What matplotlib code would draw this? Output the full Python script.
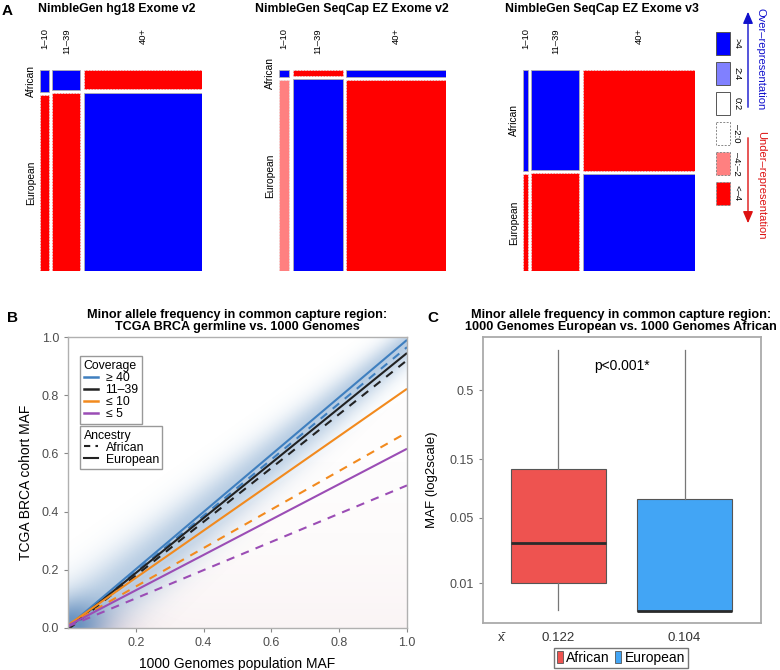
import numpy as np
import matplotlib
matplotlib.use("Agg")
import matplotlib.pyplot as plt
from matplotlib.patches import Rectangle, Patch
from matplotlib.lines import Line2D

plt.rcParams['font.family'] = ['Liberation Sans', 'DejaVu Sans']

# ---------------- data ----------------
# Panel A: mosaic plots
mosaic_titles = ["NimbleGen hg18 Exome v2", "NimbleGen SeqCap EZ Exome v2",
                 "NimbleGen SeqCap EZ Exome v3"]
coverage_levels = ["1–10", "11–39", "40+"]
ancestry_levels = ["African", "European"]
coverage_share = [[0.058, 0.180, 0.762],
                  [0.063, 0.314, 0.623],
                  [0.030, 0.290, 0.680]]
african_share = [[0.110, 0.100, 0.098],
                 [0.035, 0.030, 0.035],
                 [0.510, 0.505, 0.510]]
residual_african = [[">4", ">4", "<-4"],
                    [">4", "<-4", ">4"],
                    [">4", ">4", "<-4"]]
residual_european = [["<-4", "<-4", ">4"],
                     ["-4:-2", ">4", "<-4"],
                     ["<-4", "<-4", ">4"]]
residual_classes = [">4", "2:4", "0:2", "-2:0", "-4:-2", "<-4"]
residual_labels = [">4", "2:4", "0:2", "–2:0", "–4:–2", "<–4"]

# Panel B: regression lines (intercept, slope)
cov_labels = ["≥ 40", "11–39", "≤ 10", "≤ 5"]
eur_intercept = [0.005, 0.000, 0.010, 0.008]
eur_slope = [0.985, 0.945, 0.812, 0.608]
afr_intercept = [0.000, -0.005, 0.010, 0.005]
afr_slope = [0.965, 0.925, 0.662, 0.485]

# Panel C: box statistics
groups = ["African", "European"]
whislo = [0.0028, 0.0026]
q1 = [0.0100, 0.0026]
med = [0.0295, 0.0026]
q3 = [0.1250, 0.0717]
whishi = [0.987, 0.987]
means = ["0.122", "0.104"]
c_ticks = [0.01, 0.05, 0.15, 0.5]

# ---------------- figure ----------------
W, H = 780, 670
fig = plt.figure(figsize=(W / 100, H / 100), dpi=100)


def add_ax(x0, y0, x1, y1):
    return fig.add_axes([x0 / W, 1 - y1 / H, (x1 - x0) / W, (y1 - y0) / H])


def ftext(x, y, s, **kw):
    return fig.text(x / W, 1 - y / H, s, **kw)


# ---------------- Panel A ----------------
fill = {">4": "#0000FF", "2:4": "#8080FF", "0:2": "#FFFFFF",
        "-2:0": "#FFFFFF", "-4:-2": "#FF8080", "<-4": "#FF0000"}
positive = {">4", "2:4", "0:2"}

ftext(7, 11, "A", fontsize=11, fontweight='bold', ha='center', va='center')
mosaic_boxes = [(40, 70, 202, 271), (279, 70, 446, 271), (523, 70, 695, 271)]
title_x = [117, 352, 602]
for m in range(3):
    x0, y0, x1, y1 = mosaic_boxes[m]
    ax = add_ax(x0, y0, x1, y1)
    ax.set_xlim(0, 1)
    ax.set_ylim(1, 0)
    ax.axis('off')
    gx = 3.5 / (x1 - x0)
    gy = 3.5 / (y1 - y0)
    usable = 1 - gx * (len(coverage_levels) - 1)
    xc = 0.0
    ftext(title_x[m], 9, mosaic_titles[m], fontsize=8.8, fontweight='bold',
          ha='center', va='center')
    for j in range(len(coverage_levels)):
        w = coverage_share[m][j] * usable
        ha_ = african_share[m][j] * (1 - gy)
        he_ = (1 - african_share[m][j]) * (1 - gy)
        for (yy, hh, cls) in [(0, ha_, residual_african[m][j]),
                              (ha_ + gy, he_, residual_european[m][j])]:
            ls = '-' if cls in positive else (0, (2, 1.5))
            ec = '#B0B0B0' if cls in positive else '#E8E8E8'
            ax.add_patch(Rectangle((xc, yy), w, hh, facecolor=fill[cls],
                                   edgecolor=ec, lw=0.6, linestyle=ls))
        ftext(x0 + (xc + w / 2) * (x1 - x0), 28, coverage_levels[j], rotation=90,
              fontsize=6.8, ha='center', va='top')
        if j == 0:
            ftext(x0 - 9, y0 + ha_ / 2 * (y1 - y0), ancestry_levels[0], rotation=90,
                  fontsize=7.4, ha='center', va='center')
            ftext(x0 - 9, y0 + (ha_ + gy + he_ / 2) * (y1 - y0), ancestry_levels[1],
                  rotation=90, fontsize=7.4, ha='center', va='center')
        xc += w + gx

# shading legend
legax = add_ax(700, 0, 780, 280)
legax.set_xlim(700, 780)
legax.set_ylim(280, 0)
legax.axis('off')
box_tops = [32, 62, 92, 122, 152, 182]
for cls, lab, top in zip(residual_classes, residual_labels, box_tops):
    ls = '-' if cls in positive else (0, (2, 1.5))
    ec = '#555555' if cls in positive else '#888888'
    legax.add_patch(Rectangle((716, top), 14, 23, facecolor=fill[cls],
                              edgecolor=ec, lw=0.7, linestyle=ls))
    legax.text(737, top + 11.5, lab, rotation=270, fontsize=6.8,
               ha='center', va='center')
legax.annotate("", xy=(748, 9), xytext=(748, 110),
               arrowprops=dict(arrowstyle='-|>,head_length=0.7,head_width=0.3',
                               color='#1010CC', lw=1))
legax.annotate("", xy=(748, 226), xytext=(748, 135),
               arrowprops=dict(arrowstyle='-|>,head_length=0.7,head_width=0.3',
                               color='#DD1111', lw=1))
legax.text(761, 59, "Over–representation", rotation=270, fontsize=8,
           color='#1010CC', ha='center', va='center')
legax.text(761, 185, "Under–representation", rotation=270, fontsize=8,
           color='#DD1111', ha='center', va='center')

# ---------------- Panel B ----------------
axB = add_ax(68, 337, 407, 628)
axB.set_xlim(0, 1)
axB.set_ylim(0, 1)
ftext(12, 318, "B", fontsize=11, fontweight='bold', ha='center', va='center')
ftext(237, 321, "Minor allele frequency in common capture region:\nTCGA BRCA germline vs. 1000 Genomes",
      fontsize=9.1, fontweight='bold', ha='center', va='center', linespacing=1.0)

# decorative background haze standing in for the dense point cloud
gxs = np.linspace(0, 1, 400)
GX, GY = np.meshgrid(gxs, gxs)
ctr = 0.975 * GX + 0.004
spr = 0.045 + 0.05 * (1 - GX)
d = (GY - ctr) / spr
blue_a = np.where(d > 0, np.exp(-0.5 * d ** 2), np.exp(-0.5 * (d / 1.2) ** 2))
blob = np.exp(-(GX ** 2 + GY ** 2) / (2 * 0.07 ** 2))
alpha_b = np.clip(0.42 * blue_a + 0.5 * blob, 0, 0.85)
img_b = np.zeros(GX.shape + (4,))
img_b[..., 0], img_b[..., 1], img_b[..., 2] = 0.33, 0.53, 0.74
img_b[..., 3] = alpha_b
pink_a = np.where(GY < 0.8 * GX, 0.08 * np.exp(-GY / 0.35), 0.0) \
    + 0.22 * np.exp(-(GX ** 2 + (GY * 2.5) ** 2) / (2 * 0.12 ** 2))
img_p = np.zeros(GX.shape + (4,))
img_p[..., 0], img_p[..., 1], img_p[..., 2] = 0.75, 0.45, 0.50
img_p[..., 3] = np.clip(pink_a, 0, 0.5)
axB.imshow(img_p, extent=(0, 1, 0, 1), origin='lower', aspect='auto',
           interpolation='bilinear', zorder=0)
axB.imshow(img_b, extent=(0, 1, 0, 1), origin='lower', aspect='auto',
           interpolation='bilinear', zorder=0)

line_colors = ['#3F7FBF', '#222222', '#F28A1E', '#9B4DB5']
for i in range(4):
    axB.plot([0, 1], [eur_intercept[i], eur_intercept[i] + eur_slope[i]],
             color=line_colors[i], lw=1.5, solid_capstyle='butt')
    axB.plot([0, 1], [afr_intercept[i], afr_intercept[i] + afr_slope[i]],
             color=line_colors[i], lw=1.5, linestyle=(0, (4, 3.5)))

axB.set_xticks([0.2, 0.4, 0.6, 0.8, 1.0])
axB.set_yticks([0.0, 0.2, 0.4, 0.6, 0.8, 1.0])
axB.set_xticklabels(["0.2", "0.4", "0.6", "0.8", "1.0"])
axB.set_yticklabels(["0.0", "0.2", "0.4", "0.6", "0.8", "1.0"])
axB.tick_params(colors='#888888', labelcolor='#4D4D4D', labelsize=9, length=3, width=0.8)
for s in axB.spines.values():
    s.set_color('#B0B0B0')
    s.set_linewidth(1.0)
axB.set_xlabel("1000 Genomes population MAF", fontsize=10, labelpad=6)
axB.set_ylabel("TCGA BRCA cohort MAF", fontsize=10, labelpad=6)

leg_kw = dict(loc='upper left', fontsize=8.8, title_fontsize=8.8, frameon=True,
              fancybox=False, edgecolor='#999999', framealpha=1,
              handlelength=1.2, handletextpad=0.6, labelspacing=0.0,
              borderpad=0.3, borderaxespad=0, alignment='left')
cov_handles = [Line2D([], [], color=c, lw=1.8) for c in line_colors]
leg1 = axB.legend(cov_handles, cov_labels, title="Coverage",
                  bbox_to_anchor=(0.035, 0.934), **leg_kw)
axB.add_artist(leg1)
anc_handles = [Line2D([], [], color='#222222', lw=1.5, linestyle=(0, (3, 2.5))),
               Line2D([], [], color='#222222', lw=1.5)]
axB.legend(anc_handles, ["African", "European"], title="Ancestry",
           bbox_to_anchor=(0.035, 0.694), **leg_kw)

# ---------------- Panel C ----------------
axC = add_ax(483, 337, 761, 623)
off = 0.01
axC.set_yscale('function', functions=(lambda v: np.log2(np.maximum(v + off, 1e-9)),
                                      lambda t: 2.0 ** t - off))
axC.set_ylim(0.00024, 1.236)
axC.set_xlim(0.405, 2.603)
ftext(433, 318, "C", fontsize=11, fontweight='bold', ha='center', va='center')
ftext(621, 321, "Minor allele frequency in common capture region:\n1000 Genomes European vs. 1000 Genomes African",
      fontsize=9.1, fontweight='bold', ha='center', va='center', linespacing=1.0)

stats = []
for i in range(2):
    stats.append(dict(label=groups[i], whislo=whislo[i], q1=q1[i], med=med[i],
                      q3=q3[i], whishi=whishi[i], fliers=[]))
box_colors = ['#EE5350', '#42A5F5']
bp = axC.bxp(stats, positions=[1, 2], widths=0.754, patch_artist=True,
             showcaps=False, showfliers=False,
             boxprops=dict(edgecolor='#555555', lw=0.8),
             whiskerprops=dict(color='#777777', lw=0.9),
             medianprops=dict(color='#2A2A2A', lw=2))
for p, c in zip(bp['boxes'], box_colors):
    p.set_facecolor(c)

axC.set_yticks(c_ticks)
axC.set_yticklabels(["0.01", "0.05", "0.15", "0.5"])
axC.yaxis.set_minor_locator(matplotlib.ticker.NullLocator())
axC.set_xticks([])
axC.tick_params(axis='y', colors='#888888', labelcolor='#4D4D4D', labelsize=9,
                length=3, width=0.8)
for s in axC.spines.values():
    s.set_color('#AAAAAA')
    s.set_linewidth(1.3)
axC.set_ylabel("MAF (log2scale)", fontsize=9.5, labelpad=8)
axC.text(0.5, 0.9, "p<0.001*", transform=axC.transAxes, fontsize=10,
         ha='center', va='center')

ftext(501, 638, "x̄", fontsize=9.5, ha='center', va='center', color='#333333')
ftext(558, 638, means[0], fontsize=9.5, ha='center', va='center', color='#333333')
ftext(684, 638, means[1], fontsize=9.5, ha='center', va='center', color='#333333')

c_handles = [Patch(facecolor=c, edgecolor='#555555', lw=0.6) for c in box_colors]
fig.legend(c_handles, groups, loc='center', bbox_to_anchor=(621 / W, 1 - 658 / H),
           ncol=2, fontsize=10, frameon=True, fancybox=False, edgecolor='#555555',
           handlelength=0.4, handleheight=0.9, handletextpad=0.25, columnspacing=0.4,
           borderpad=0.2)

fig.savefig("out.png", dpi=100)
